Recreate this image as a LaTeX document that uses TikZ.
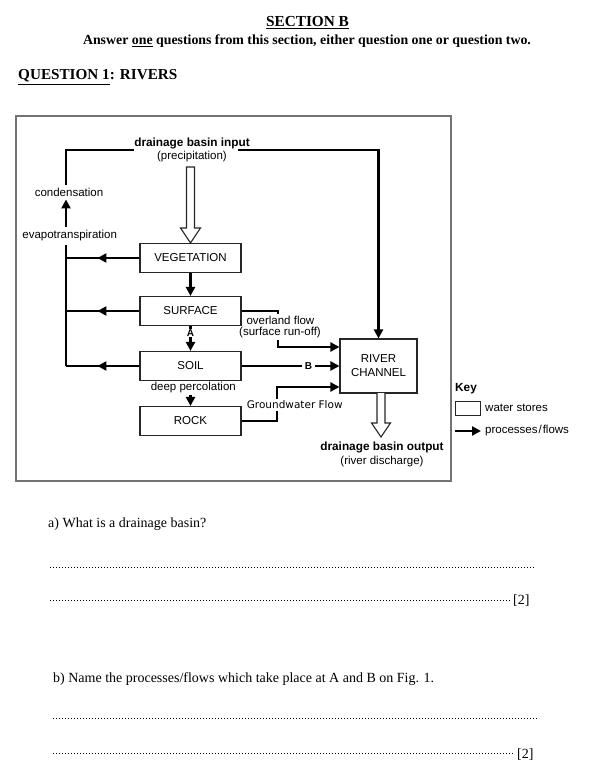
\documentclass[tikz,border=0pt]{standalone}
\usepackage{fontspec}
\setmainfont{Liberation Serif}
\setsansfont{Liberation Sans}
\newfontfamily\dvs{DejaVu Sans}
\usetikzlibrary{arrows.meta,decorations.markings,calc}
\tikzset{
  store/.style={draw=black!85, line width=1.1pt, minimum width=101pt, minimum height=29pt,
    inner sep=0pt, font=\sffamily\fontsize{11.5}{14}\selectfont, align=center},
  flow/.style={line width=2.6pt, draw=black},
  tip/.style={-{Triangle[length=9pt,width=9pt]}},
  midtip/.style={postaction={decorate}, decoration={markings,
    mark=at position #1 with {\arrow{Triangle[length=9pt,width=9pt]}}}},
  lbl/.style={font=\sffamily\fontsize{11.5}{13}\selectfont, inner sep=1pt},
  lblb/.style={font=\sffamily\bfseries\fontsize{11.8}{13}\selectfont, inner sep=1pt},
  wlbl/.style={lbl, fill=white, inner ysep=2pt},
  letter/.style={font=\sffamily\bfseries\fontsize{10}{11}\selectfont, fill=white, inner xsep=2.5pt, inner ysep=0.5pt},
  hollow/.style={line width=1.1pt, draw=black!85, fill=white, line join=miter},
  dotline/.style={line width=0.8pt, dash pattern=on 0.8pt off 2.2pt},
  qtext/.style={anchor=base west, inner sep=0pt, font=\fontsize{14}{16}\selectfont},
}
\begin{document}
\begin{tikzpicture}[x=1pt,y=-1pt]
\useasboundingbox (0,0) rectangle (593,783);
% header
\node[anchor=base, inner sep=0pt, font=\bfseries\fontsize{15.3}{18}\selectfont] (sec) at (307.5,27) {\underline{SECTION B}};
\node[anchor=base, inner sep=0pt, font=\bfseries\fontsize{13.85}{16}\selectfont] (ans) at (307,45) {Answer \underline{one} questions from this section, either question one or question two.};
\node[anchor=base west, inner sep=0pt, font=\bfseries\fontsize{15.2}{18}\selectfont] (q1) at (18,80) {\underline{QUESTION 1}: RIVERS};
% frame
\draw[black!55, line width=1.2pt] (16,116) rectangle (451,481);
% stores
\node[store] (veg) at (190.5,258) {VEGETATION};
\node[store] (surf) at (190.5,311) {SURFACE};
\node[store] (soil) at (190.5,366) {SOIL};
\node[store] (rock) at (190.5,421) {ROCK};
\node[store, minimum width=77pt, minimum height=54pt] (river) at (378.5,366) {RIVER\\CHANNEL};
% text labels
\node[lblb] (inp) at (192,143) {drainage basin input};
\node[lbl] (prec) at (192,157) {(precipitation)};
\node[lbl, inner ysep=3pt] (cond) at (69,192) {condensation};
\node[lbl, inner ysep=3.5pt] (evap) at (69.7,236) {evapotranspiration};
\node[lblb] (out) at (382,447) {drainage basin output};
\node[lbl] (dis) at (382,462) {(river discharge)};
\coordinate (Lx) at (66,0);
\coordinate (inL) at (134,150);
\coordinate (inR) at (238,150);
% precipitation input and discharge output
\draw[hollow] (186.5,167) -- (186.5,228) -- (180.5,228) -- (veg.north) -- (200.5,228) -- (194.5,228) -- (194.5,167) -- cycle;
\draw[hollow] (377,393) -- (377,423) -- (371.5,423) -- (381,437) -- (390.5,423) -- (385,423) -- (385,393);
% top loop
\draw[flow] (Lx|-cond.north) |- (inL);
\draw[flow,tip] (Lx|-evap.north) -- (Lx|-cond.south);
\draw[flow] (Lx|-soil.west) -- (Lx|-evap.south);
\draw[flow,tip] (inR) -| (river.north);
% evapotranspiration returns
\draw[flow, midtip=42pt] (veg.west) -- (Lx|-veg.west);
\draw[flow, midtip=42pt] (surf.west) -- (Lx|-surf.west);
\draw[flow, midtip=42pt] (soil.west) -- (Lx|-soil.west);
% vertical flows
\draw[flow,tip] (veg) -- (surf);
\draw[flow,tip] (surf) -- (soil);
\draw[flow,tip] (soil) -- (rock);
% to river
\coordinate (ovA) at (278,311);
\coordinate (ovB) at (278,347);
\draw[flow,tip] (surf.east) -- (ovA) -- (ovB) -- (ovB-|river.west);
\draw[flow,tip] (soil) -- (river);
\coordinate (gwA) at (277,421);
\coordinate (gwB) at (277,387);
\draw[flow,tip] (rock.east) -- (gwA) -- (gwB) -- (gwB-|river.west);
% labels over lines
\node[letter] (A) at (190.5,333) {A};
\node[letter] (B) at (308.5,366) {B};
\node[wlbl] (perc) at (193.3,388) {deep percolation};
\node[wlbl] (ovl) at (280.4,320) {overland flow};
\node[wlbl] (sro) at (280,333) {(surface run-off)};
\node[wlbl, font=\dvs\fontsize{10.5}{12}\selectfont] (gw) at (294.7,405) {Groundwater Flow};
% key
\node[lblb, anchor=west] (key) at (454,389) {Key};
\node[draw=black!85, line width=1pt, minimum width=25pt, minimum height=14pt, inner sep=0pt] (keybox) at (467.5,408) {};
\node[lbl, anchor=west] (ws) at (484,408) {water stores};
\node[lbl, anchor=west] (pf) at (484,431) {processes\kern1pt/\kern1pt flows};
\coordinate (ka) at (455,431);
\draw[flow,tip] (ka) -- ([xshift=-3pt]pf.west);
% questions
\node[qtext] (qa) at (48,527) {a) What is a drainage basin?};
\draw[dotline] (50,567) -- (534,567);
\draw[dotline] (50,600) -- (510,600);
\node[qtext] (ma) at (513,604) {[2]};
\node[qtext] (qb) at (53,682) {b) Name the processes/flows which take place at A and B on Fig. 1.};
\draw[dotline] (53,718) -- (539,718);
\draw[dotline] (53,753) -- (513,753);
\node[qtext] (mb) at (517,758) {[2]};
\end{tikzpicture}
\end{document}
